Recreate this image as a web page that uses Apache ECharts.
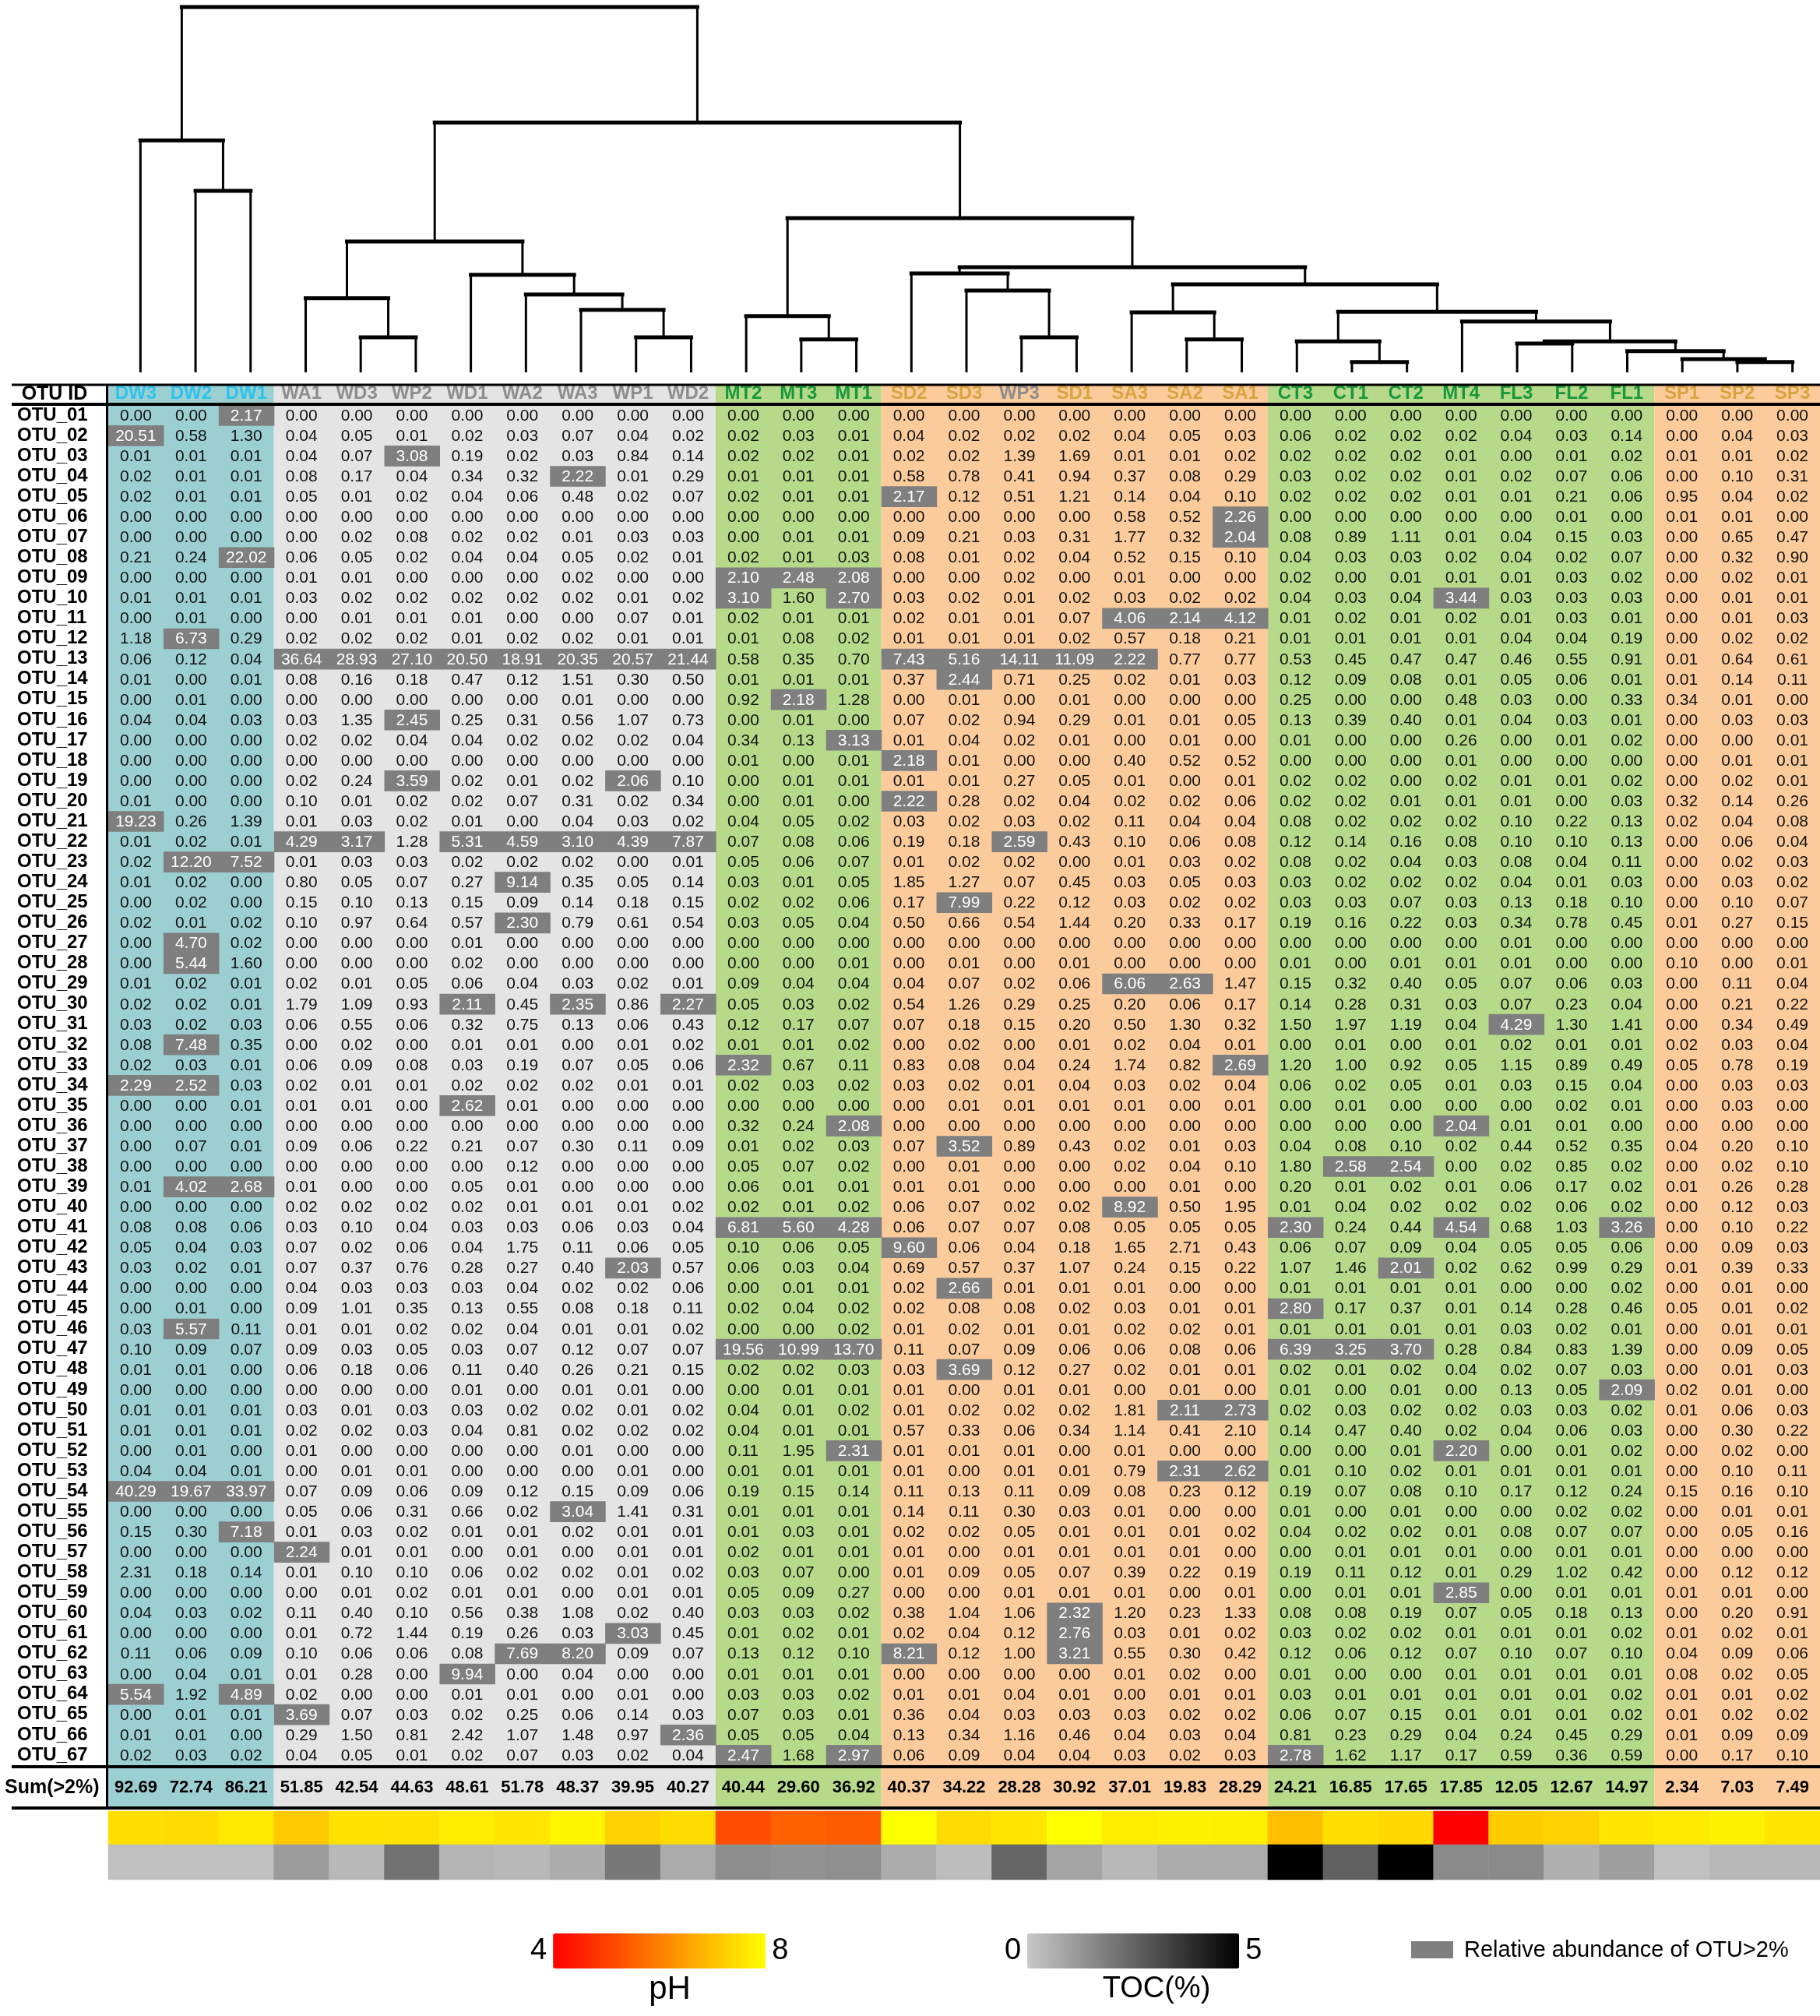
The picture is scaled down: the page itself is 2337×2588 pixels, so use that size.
<!DOCTYPE html>
<html>
<head>
<meta charset="utf-8">
<title>OTU relative abundance</title>
<script src="https://cdn.jsdelivr.net/npm/echarts@6/dist/echarts.min.js"></script>
<style>
html, body { margin: 0; padding: 0; background: #fff; }
#chart { width: 2337px; height: 2588px; }
</style>
</head>
<body>
<div id="chart"></div>
<script>
var FONT = '"Liberation Sans", Arial, sans-serif';

// samples, in dendrogram order
var samples = ['DW3', 'DW2', 'DW1', 'WA1', 'WD3', 'WP2', 'WD1', 'WA2', 'WA3', 'WP1', 'WD2', 'MT2', 'MT3', 'MT1',
  'SD2', 'SD3', 'WP3', 'SD1', 'SA3', 'SA2', 'SA1', 'CT3', 'CT1', 'CT2', 'MT4', 'FL3', 'FL2', 'FL1', 'SP1', 'SP2', 'SP3'];

var otuIds = ['OTU_01', 'OTU_02', 'OTU_03', 'OTU_04', 'OTU_05', 'OTU_06', 'OTU_07', 'OTU_08', 'OTU_09', 'OTU_10',
  'OTU_11', 'OTU_12', 'OTU_13', 'OTU_14', 'OTU_15', 'OTU_16', 'OTU_17', 'OTU_18', 'OTU_19', 'OTU_20',
  'OTU_21', 'OTU_22', 'OTU_23', 'OTU_24', 'OTU_25', 'OTU_26', 'OTU_27', 'OTU_28', 'OTU_29', 'OTU_30',
  'OTU_31', 'OTU_32', 'OTU_33', 'OTU_34', 'OTU_35', 'OTU_36', 'OTU_37', 'OTU_38', 'OTU_39', 'OTU_40',
  'OTU_41', 'OTU_42', 'OTU_43', 'OTU_44', 'OTU_45', 'OTU_46', 'OTU_47', 'OTU_48', 'OTU_49', 'OTU_50',
  'OTU_51', 'OTU_52', 'OTU_53', 'OTU_54', 'OTU_55', 'OTU_56', 'OTU_57', 'OTU_58', 'OTU_59', 'OTU_60',
  'OTU_61', 'OTU_62', 'OTU_63', 'OTU_64', 'OTU_65', 'OTU_66', 'OTU_67'];

// relative abundance (%), one row per OTU, columns as in samples
var abundance = [
  [0, 0, 2.17, 0, 0, 0, 0, 0, 0, 0, 0, 0, 0, 0,   0, 0, 0, 0, 0, 0, 0, 0, 0, 0, 0, 0, 0, 0, 0, 0, 0],
  [20.51, 0.58, 1.30, 0.04, 0.05, 0.01, 0.02, 0.03, 0.07, 0.04, 0.02, 0.02, 0.03, 0.01,   0.04, 0.02, 0.02, 0.02, 0.04, 0.05, 0.03, 0.06, 0.02, 0.02, 0.02, 0.04, 0.03, 0.14, 0, 0.04, 0.03],
  [0.01, 0.01, 0.01, 0.04, 0.07, 3.08, 0.19, 0.02, 0.03, 0.84, 0.14, 0.02, 0.02, 0.01,   0.02, 0.02, 1.39, 1.69, 0.01, 0.01, 0.02, 0.02, 0.02, 0.02, 0.01, 0, 0.01, 0.02, 0.01, 0.01, 0.02],
  [0.02, 0.01, 0.01, 0.08, 0.17, 0.04, 0.34, 0.32, 2.22, 0.01, 0.29, 0.01, 0.01, 0.01,   0.58, 0.78, 0.41, 0.94, 0.37, 0.08, 0.29, 0.03, 0.02, 0.02, 0.01, 0.02, 0.07, 0.06, 0, 0.10, 0.31],
  [0.02, 0.01, 0.01, 0.05, 0.01, 0.02, 0.04, 0.06, 0.48, 0.02, 0.07, 0.02, 0.01, 0.01,   2.17, 0.12, 0.51, 1.21, 0.14, 0.04, 0.10, 0.02, 0.02, 0.02, 0.01, 0.01, 0.21, 0.06, 0.95, 0.04, 0.02],
  [0, 0, 0, 0, 0, 0, 0, 0, 0, 0, 0, 0, 0, 0,   0, 0, 0, 0, 0.58, 0.52, 2.26, 0, 0, 0, 0, 0, 0.01, 0, 0.01, 0.01, 0],
  [0, 0, 0, 0, 0.02, 0.08, 0.02, 0.02, 0.01, 0.03, 0.03, 0, 0.01, 0.01,   0.09, 0.21, 0.03, 0.31, 1.77, 0.32, 2.04, 0.08, 0.89, 1.11, 0.01, 0.04, 0.15, 0.03, 0, 0.65, 0.47],
  [0.21, 0.24, 22.02, 0.06, 0.05, 0.02, 0.04, 0.04, 0.05, 0.02, 0.01, 0.02, 0.01, 0.03,   0.08, 0.01, 0.02, 0.04, 0.52, 0.15, 0.10, 0.04, 0.03, 0.03, 0.02, 0.04, 0.02, 0.07, 0, 0.32, 0.90],
  [0, 0, 0, 0.01, 0.01, 0, 0, 0, 0.02, 0, 0, 2.10, 2.48, 2.08,   0, 0, 0.02, 0, 0.01, 0, 0, 0.02, 0, 0.01, 0.01, 0.01, 0.03, 0.02, 0, 0.02, 0.01],
  [0.01, 0.01, 0.01, 0.03, 0.02, 0.02, 0.02, 0.02, 0.02, 0.01, 0.02, 3.10, 1.60, 2.70,   0.03, 0.02, 0.01, 0.02, 0.03, 0.02, 0.02, 0.04, 0.03, 0.04, 3.44, 0.03, 0.03, 0.03, 0, 0.01, 0.01],
  [0, 0.01, 0, 0, 0.01, 0.01, 0.01, 0, 0, 0.07, 0.01, 0.02, 0.01, 0.01,   0.02, 0.01, 0.01, 0.07, 4.06, 2.14, 4.12, 0.01, 0.02, 0.01, 0.02, 0.01, 0.03, 0.01, 0, 0.01, 0.03],
  [1.18, 6.73, 0.29, 0.02, 0.02, 0.02, 0.01, 0.02, 0.02, 0.01, 0.01, 0.01, 0.08, 0.02,   0.01, 0.01, 0.01, 0.02, 0.57, 0.18, 0.21, 0.01, 0.01, 0.01, 0.01, 0.04, 0.04, 0.19, 0, 0.02, 0.02],
  [0.06, 0.12, 0.04, 36.64, 28.93, 27.10, 20.50, 18.91, 20.35, 20.57, 21.44, 0.58, 0.35, 0.70,   7.43, 5.16, 14.11, 11.09, 2.22, 0.77, 0.77, 0.53, 0.45, 0.47, 0.47, 0.46, 0.55, 0.91, 0.01, 0.64, 0.61],
  [0.01, 0, 0.01, 0.08, 0.16, 0.18, 0.47, 0.12, 1.51, 0.30, 0.50, 0.01, 0.01, 0.01,   0.37, 2.44, 0.71, 0.25, 0.02, 0.01, 0.03, 0.12, 0.09, 0.08, 0.01, 0.05, 0.06, 0.01, 0.01, 0.14, 0.11],
  [0, 0.01, 0, 0, 0, 0, 0, 0, 0.01, 0, 0, 0.92, 2.18, 1.28,   0, 0.01, 0, 0.01, 0, 0, 0, 0.25, 0, 0, 0.48, 0.03, 0, 0.33, 0.34, 0.01, 0],
  [0.04, 0.04, 0.03, 0.03, 1.35, 2.45, 0.25, 0.31, 0.56, 1.07, 0.73, 0, 0.01, 0,   0.07, 0.02, 0.94, 0.29, 0.01, 0.01, 0.05, 0.13, 0.39, 0.40, 0.01, 0.04, 0.03, 0.01, 0, 0.03, 0.03],
  [0, 0, 0, 0.02, 0.02, 0.04, 0.04, 0.02, 0.02, 0.02, 0.04, 0.34, 0.13, 3.13,   0.01, 0.04, 0.02, 0.01, 0, 0.01, 0, 0.01, 0, 0, 0.26, 0, 0.01, 0.02, 0, 0, 0.01],
  [0, 0, 0, 0, 0, 0, 0, 0, 0, 0, 0, 0.01, 0, 0.01,   2.18, 0.01, 0, 0, 0.40, 0.52, 0.52, 0, 0, 0, 0.01, 0, 0, 0, 0, 0.01, 0.01],
  [0, 0, 0, 0.02, 0.24, 3.59, 0.02, 0.01, 0.02, 2.06, 0.10, 0, 0.01, 0.01,   0.01, 0.01, 0.27, 0.05, 0.01, 0, 0.01, 0.02, 0.02, 0, 0.02, 0.01, 0.01, 0.02, 0, 0.02, 0.01],
  [0.01, 0, 0, 0.10, 0.01, 0.02, 0.02, 0.07, 0.31, 0.02, 0.34, 0, 0.01, 0,   2.22, 0.28, 0.02, 0.04, 0.02, 0.02, 0.06, 0.02, 0.02, 0.01, 0.01, 0.01, 0, 0.03, 0.32, 0.14, 0.26],
  [19.23, 0.26, 1.39, 0.01, 0.03, 0.02, 0.01, 0, 0.04, 0.03, 0.02, 0.04, 0.05, 0.02,   0.03, 0.02, 0.03, 0.02, 0.11, 0.04, 0.04, 0.08, 0.02, 0.02, 0.02, 0.10, 0.22, 0.13, 0.02, 0.04, 0.08],
  [0.01, 0.02, 0.01, 4.29, 3.17, 1.28, 5.31, 4.59, 3.10, 4.39, 7.87, 0.07, 0.08, 0.06,   0.19, 0.18, 2.59, 0.43, 0.10, 0.06, 0.08, 0.12, 0.14, 0.16, 0.08, 0.10, 0.10, 0.13, 0, 0.06, 0.04],
  [0.02, 12.20, 7.52, 0.01, 0.03, 0.03, 0.02, 0.02, 0.02, 0, 0.01, 0.05, 0.06, 0.07,   0.01, 0.02, 0.02, 0, 0.01, 0.03, 0.02, 0.08, 0.02, 0.04, 0.03, 0.08, 0.04, 0.11, 0, 0.02, 0.03],
  [0.01, 0.02, 0, 0.80, 0.05, 0.07, 0.27, 9.14, 0.35, 0.05, 0.14, 0.03, 0.01, 0.05,   1.85, 1.27, 0.07, 0.45, 0.03, 0.05, 0.03, 0.03, 0.02, 0.02, 0.02, 0.04, 0.01, 0.03, 0, 0.03, 0.02],
  [0, 0.02, 0, 0.15, 0.10, 0.13, 0.15, 0.09, 0.14, 0.18, 0.15, 0.02, 0.02, 0.06,   0.17, 7.99, 0.22, 0.12, 0.03, 0.02, 0.02, 0.03, 0.03, 0.07, 0.03, 0.13, 0.18, 0.10, 0, 0.10, 0.07],
  [0.02, 0.01, 0.02, 0.10, 0.97, 0.64, 0.57, 2.30, 0.79, 0.61, 0.54, 0.03, 0.05, 0.04,   0.50, 0.66, 0.54, 1.44, 0.20, 0.33, 0.17, 0.19, 0.16, 0.22, 0.03, 0.34, 0.78, 0.45, 0.01, 0.27, 0.15],
  [0, 4.70, 0.02, 0, 0, 0, 0.01, 0, 0, 0, 0, 0, 0, 0,   0, 0, 0, 0, 0, 0, 0, 0, 0, 0, 0, 0.01, 0, 0, 0, 0, 0],
  [0, 5.44, 1.60, 0, 0, 0, 0.02, 0, 0, 0, 0, 0, 0, 0.01,   0, 0.01, 0, 0.01, 0, 0, 0, 0.01, 0, 0.01, 0.01, 0.01, 0, 0, 0.10, 0, 0.01],
  [0.01, 0.02, 0.01, 0.02, 0.01, 0.05, 0.06, 0.04, 0.03, 0.02, 0.01, 0.09, 0.04, 0.04,   0.04, 0.07, 0.02, 0.06, 6.06, 2.63, 1.47, 0.15, 0.32, 0.40, 0.05, 0.07, 0.06, 0.03, 0, 0.11, 0.04],
  [0.02, 0.02, 0.01, 1.79, 1.09, 0.93, 2.11, 0.45, 2.35, 0.86, 2.27, 0.05, 0.03, 0.02,   0.54, 1.26, 0.29, 0.25, 0.20, 0.06, 0.17, 0.14, 0.28, 0.31, 0.03, 0.07, 0.23, 0.04, 0, 0.21, 0.22],
  [0.03, 0.02, 0.03, 0.06, 0.55, 0.06, 0.32, 0.75, 0.13, 0.06, 0.43, 0.12, 0.17, 0.07,   0.07, 0.18, 0.15, 0.20, 0.50, 1.30, 0.32, 1.50, 1.97, 1.19, 0.04, 4.29, 1.30, 1.41, 0, 0.34, 0.49],
  [0.08, 7.48, 0.35, 0, 0.02, 0, 0.01, 0.01, 0, 0.01, 0.02, 0.01, 0.01, 0.02,   0, 0.02, 0, 0.01, 0.02, 0.04, 0.01, 0, 0.01, 0, 0.01, 0.02, 0.01, 0.01, 0.02, 0.03, 0.04],
  [0.02, 0.03, 0.01, 0.06, 0.09, 0.08, 0.03, 0.19, 0.07, 0.05, 0.06, 2.32, 0.67, 0.11,   0.83, 0.08, 0.04, 0.24, 1.74, 0.82, 2.69, 1.20, 1.00, 0.92, 0.05, 1.15, 0.89, 0.49, 0.05, 0.78, 0.19],
  [2.29, 2.52, 0.03, 0.02, 0.01, 0.01, 0.02, 0.02, 0.02, 0.01, 0.01, 0.02, 0.03, 0.02,   0.03, 0.02, 0.01, 0.04, 0.03, 0.02, 0.04, 0.06, 0.02, 0.05, 0.01, 0.03, 0.15, 0.04, 0, 0.03, 0.03],
  [0, 0, 0.01, 0.01, 0.01, 0, 2.62, 0.01, 0, 0, 0, 0, 0, 0,   0, 0.01, 0.01, 0.01, 0.01, 0, 0.01, 0, 0.01, 0, 0, 0, 0.02, 0.01, 0, 0.03, 0],
  [0, 0, 0, 0, 0, 0, 0, 0, 0, 0, 0, 0.32, 0.24, 2.08,   0, 0, 0, 0, 0, 0, 0, 0, 0, 0, 2.04, 0.01, 0.01, 0, 0, 0, 0],
  [0, 0.07, 0.01, 0.09, 0.06, 0.22, 0.21, 0.07, 0.30, 0.11, 0.09, 0.01, 0.02, 0.03,   0.07, 3.52, 0.89, 0.43, 0.02, 0.01, 0.03, 0.04, 0.08, 0.10, 0.02, 0.44, 0.52, 0.35, 0.04, 0.20, 0.10],
  [0, 0, 0, 0, 0, 0, 0, 0.12, 0, 0, 0, 0.05, 0.07, 0.02,   0, 0.01, 0, 0, 0.02, 0.04, 0.10, 1.80, 2.58, 2.54, 0, 0.02, 0.85, 0.02, 0, 0.02, 0.10],
  [0.01, 4.02, 2.68, 0.01, 0, 0, 0.05, 0.01, 0, 0, 0, 0.06, 0.01, 0.01,   0.01, 0.01, 0, 0, 0, 0.01, 0, 0.20, 0.01, 0.02, 0.01, 0.06, 0.17, 0.02, 0.01, 0.26, 0.28],
  [0, 0, 0, 0.02, 0.02, 0.02, 0.02, 0.01, 0.01, 0.01, 0.02, 0.02, 0.01, 0.02,   0.06, 0.07, 0.02, 0.02, 8.92, 0.50, 1.95, 0.01, 0.04, 0.02, 0.02, 0.02, 0.06, 0.02, 0, 0.12, 0.03],
  [0.08, 0.08, 0.06, 0.03, 0.10, 0.04, 0.03, 0.03, 0.06, 0.03, 0.04, 6.81, 5.60, 4.28,   0.06, 0.07, 0.07, 0.08, 0.05, 0.05, 0.05, 2.30, 0.24, 0.44, 4.54, 0.68, 1.03, 3.26, 0, 0.10, 0.22],
  [0.05, 0.04, 0.03, 0.07, 0.02, 0.06, 0.04, 1.75, 0.11, 0.06, 0.05, 0.10, 0.06, 0.05,   9.60, 0.06, 0.04, 0.18, 1.65, 2.71, 0.43, 0.06, 0.07, 0.09, 0.04, 0.05, 0.05, 0.06, 0, 0.09, 0.03],
  [0.03, 0.02, 0.01, 0.07, 0.37, 0.76, 0.28, 0.27, 0.40, 2.03, 0.57, 0.06, 0.03, 0.04,   0.69, 0.57, 0.37, 1.07, 0.24, 0.15, 0.22, 1.07, 1.46, 2.01, 0.02, 0.62, 0.99, 0.29, 0.01, 0.39, 0.33],
  [0, 0, 0, 0.04, 0.03, 0.03, 0.03, 0.04, 0.02, 0.02, 0.06, 0, 0.01, 0.01,   0.02, 2.66, 0.01, 0.01, 0.01, 0, 0, 0.01, 0.01, 0.01, 0.01, 0, 0, 0.02, 0, 0.01, 0],
  [0, 0.01, 0, 0.09, 1.01, 0.35, 0.13, 0.55, 0.08, 0.18, 0.11, 0.02, 0.04, 0.02,   0.02, 0.08, 0.08, 0.02, 0.03, 0.01, 0.01, 2.80, 0.17, 0.37, 0.01, 0.14, 0.28, 0.46, 0.05, 0.01, 0.02],
  [0.03, 5.57, 0.11, 0.01, 0.01, 0.02, 0.02, 0.04, 0.01, 0.01, 0.02, 0, 0, 0.02,   0.01, 0.02, 0.01, 0.01, 0.02, 0.02, 0.01, 0.01, 0.01, 0.01, 0.01, 0.03, 0.02, 0.01, 0, 0.01, 0.01],
  [0.10, 0.09, 0.07, 0.09, 0.03, 0.05, 0.03, 0.07, 0.12, 0.07, 0.07, 19.56, 10.99, 13.70,   0.11, 0.07, 0.09, 0.06, 0.06, 0.08, 0.06, 6.39, 3.25, 3.70, 0.28, 0.84, 0.83, 1.39, 0, 0.09, 0.05],
  [0.01, 0.01, 0, 0.06, 0.18, 0.06, 0.11, 0.40, 0.26, 0.21, 0.15, 0.02, 0.02, 0.03,   0.03, 3.69, 0.12, 0.27, 0.02, 0.01, 0.01, 0.02, 0.01, 0.02, 0.04, 0.02, 0.07, 0.03, 0, 0.01, 0.03],
  [0, 0, 0, 0, 0, 0, 0.01, 0, 0.01, 0.01, 0, 0, 0.01, 0.01,   0.01, 0, 0.01, 0.01, 0, 0.01, 0, 0.01, 0, 0.01, 0, 0.13, 0.05, 2.09, 0.02, 0.01, 0],
  [0.01, 0.01, 0.01, 0.03, 0.01, 0.03, 0.03, 0.02, 0.02, 0.01, 0.02, 0.04, 0.01, 0.02,   0.01, 0.02, 0.02, 0.02, 1.81, 2.11, 2.73, 0.02, 0.03, 0.02, 0.02, 0.03, 0.03, 0.02, 0.01, 0.06, 0.03],
  [0.01, 0.01, 0.01, 0.02, 0.02, 0.03, 0.04, 0.81, 0.02, 0.02, 0.02, 0.04, 0.01, 0.01,   0.57, 0.33, 0.06, 0.34, 1.14, 0.41, 2.10, 0.14, 0.47, 0.40, 0.02, 0.04, 0.06, 0.03, 0, 0.30, 0.22],
  [0, 0.01, 0, 0.01, 0, 0, 0, 0, 0.01, 0, 0, 0.11, 1.95, 2.31,   0.01, 0.01, 0.01, 0, 0.01, 0, 0, 0, 0, 0.01, 2.20, 0, 0.01, 0.02, 0, 0.02, 0],
  [0.04, 0.04, 0.01, 0, 0.01, 0.01, 0, 0, 0, 0.01, 0, 0.01, 0.01, 0.01,   0.01, 0, 0.01, 0.01, 0.79, 2.31, 2.62, 0.01, 0.10, 0.02, 0.01, 0.01, 0.01, 0.01, 0, 0.10, 0.11],
  [40.29, 19.67, 33.97, 0.07, 0.09, 0.06, 0.09, 0.12, 0.15, 0.09, 0.06, 0.19, 0.15, 0.14,   0.11, 0.13, 0.11, 0.09, 0.08, 0.23, 0.12, 0.19, 0.07, 0.08, 0.10, 0.17, 0.12, 0.24, 0.15, 0.16, 0.10],
  [0, 0, 0, 0.05, 0.06, 0.31, 0.66, 0.02, 3.04, 1.41, 0.31, 0.01, 0.01, 0.01,   0.14, 0.11, 0.30, 0.03, 0.01, 0, 0, 0.01, 0, 0.01, 0, 0, 0.02, 0.02, 0, 0.01, 0.01],
  [0.15, 0.30, 7.18, 0.01, 0.03, 0.02, 0.01, 0.01, 0.02, 0.01, 0.01, 0.01, 0.03, 0.01,   0.02, 0.02, 0.05, 0.01, 0.01, 0.01, 0.02, 0.04, 0.02, 0.02, 0.01, 0.08, 0.07, 0.07, 0, 0.05, 0.16],
  [0, 0, 0, 2.24, 0.01, 0.01, 0, 0.01, 0, 0.01, 0.01, 0.02, 0.01, 0.01,   0.01, 0, 0.01, 0.01, 0.01, 0.01, 0, 0, 0.01, 0.01, 0.01, 0, 0.01, 0.01, 0, 0, 0],
  [2.31, 0.18, 0.14, 0.01, 0.10, 0.10, 0.06, 0.02, 0.02, 0.01, 0.02, 0.03, 0.07, 0,   0.01, 0.09, 0.05, 0.07, 0.39, 0.22, 0.19, 0.19, 0.11, 0.12, 0.01, 0.29, 1.02, 0.42, 0, 0.12, 0.12],
  [0, 0, 0, 0, 0.01, 0.02, 0.01, 0.01, 0, 0.01, 0.01, 0.05, 0.09, 0.27,   0, 0, 0.01, 0.01, 0.01, 0, 0.01, 0, 0.01, 0.01, 2.85, 0, 0.01, 0.01, 0.01, 0.01, 0],
  [0.04, 0.03, 0.02, 0.11, 0.40, 0.10, 0.56, 0.38, 1.08, 0.02, 0.40, 0.03, 0.03, 0.02,   0.38, 1.04, 1.06, 2.32, 1.20, 0.23, 1.33, 0.08, 0.08, 0.19, 0.07, 0.05, 0.18, 0.13, 0, 0.20, 0.91],
  [0, 0, 0, 0.01, 0.72, 1.44, 0.19, 0.26, 0.03, 3.03, 0.45, 0.01, 0.02, 0.01,   0.02, 0.04, 0.12, 2.76, 0.03, 0.01, 0.02, 0.03, 0.02, 0.02, 0.01, 0.01, 0.01, 0.02, 0.01, 0.02, 0.01],
  [0.11, 0.06, 0.09, 0.10, 0.06, 0.06, 0.08, 7.69, 8.20, 0.09, 0.07, 0.13, 0.12, 0.10,   8.21, 0.12, 1.00, 3.21, 0.55, 0.30, 0.42, 0.12, 0.06, 0.12, 0.07, 0.10, 0.07, 0.10, 0.04, 0.09, 0.06],
  [0, 0.04, 0.01, 0.01, 0.28, 0, 9.94, 0, 0.04, 0, 0, 0.01, 0.01, 0.01,   0, 0, 0, 0, 0.01, 0.02, 0, 0.01, 0, 0, 0.01, 0.01, 0.01, 0.01, 0.08, 0.02, 0.05],
  [5.54, 1.92, 4.89, 0.02, 0, 0, 0.01, 0.01, 0, 0.01, 0, 0.03, 0.03, 0.02,   0.01, 0.01, 0.04, 0.01, 0, 0.01, 0.01, 0.03, 0.01, 0.01, 0.01, 0.01, 0.01, 0.02, 0.01, 0.01, 0.02],
  [0, 0.01, 0.01, 3.69, 0.07, 0.03, 0.02, 0.25, 0.06, 0.14, 0.03, 0.07, 0.03, 0.01,   0.36, 0.04, 0.03, 0.03, 0.03, 0.02, 0.02, 0.06, 0.07, 0.15, 0.01, 0.01, 0.01, 0.02, 0.01, 0.02, 0.02],
  [0.01, 0.01, 0, 0.29, 1.50, 0.81, 2.42, 1.07, 1.48, 0.97, 2.36, 0.05, 0.05, 0.04,   0.13, 0.34, 1.16, 0.46, 0.04, 0.03, 0.04, 0.81, 0.23, 0.29, 0.04, 0.24, 0.45, 0.29, 0.01, 0.09, 0.09],
  [0.02, 0.03, 0.02, 0.04, 0.05, 0.01, 0.02, 0.07, 0.03, 0.02, 0.04, 2.47, 1.68, 2.97,   0.06, 0.09, 0.04, 0.04, 0.03, 0.02, 0.03, 2.78, 1.62, 1.17, 0.17, 0.59, 0.36, 0.59, 0, 0.17, 0.10]
];

var sumOver2 = [92.69, 72.74, 86.21, 51.85, 42.54, 44.63, 48.61, 51.78, 48.37, 39.95, 40.27, 40.44, 29.60, 36.92,
  40.37, 34.22, 28.28, 30.92, 37.01, 19.83, 28.29, 24.21, 16.85, 17.65, 17.85, 12.05, 12.67, 14.97, 2.34, 7.03, 7.49];

// cells above 2 that the figure leaves unmarked
var notFlagged = [['OTU_42', 'SA2'], ['OTU_51', 'SA1'], ['OTU_58', 'DW3'], ['OTU_66', 'WD1']];

var phValues = [7.5, 7.45, 7.65, 7.15, 7.55, 7.55, 7.7, 7.6, 7.85, 7.3, 7.45, 5.2, 5.5, 5.45,
  8.0, 7.45, 7.6, 8.0, 7.7, 7.8, 7.75, 7.0, 7.5, 7.4, 4.0, 7.2, 7.3, 7.6, 7.65, 7.8, 7.6];
var tocValues = [0.2, 0.2, 0.2, 1.1, 0.4, 2.15, 0.5, 0.4, 0.7, 2.0, 0.72, 1.45, 1.35, 1.42,
  0.72, 0.28, 2.45, 0.9, 0.4, 0.72, 0.72, 5.0, 2.6, 5.0, 1.55, 1.55, 0.6, 1.05, 0.2, 0.4, 0.4];

// hierarchical clustering: [node a, node b, height]; leaves are 0..30, merges 31..
var linkage = [
  [4, 5, 0.096], [3, 31, 0.203], [9, 10, 0.096], [8, 33, 0.171], [7, 34, 0.213],
  [6, 35, 0.267], [32, 36, 0.358], [1, 2, 0.497], [0, 38, 0.635], [12, 13, 0.090],
  [11, 40, 0.154], [16, 17, 0.096], [15, 42, 0.224], [14, 43, 0.271], [19, 20, 0.090],
  [18, 45, 0.164], [22, 23, 0.028], [21, 47, 0.085], [29, 30, 0.028], [28, 49, 0.036],
  [27, 50, 0.058], [25, 26, 0.079], [52, 51, 0.085], [24, 53, 0.139], [48, 54, 0.166],
  [46, 55, 0.241], [44, 56, 0.288], [41, 57, 0.422], [37, 58, 0.684], [39, 59, 1.000]
];

abundance.forEach(function (row, i) {
  if (row.length !== samples.length) throw new Error('row ' + otuIds[i] + ' has ' + row.length);
});

// background blocks behind the columns
var blocks = [[0, 2, '#9CCFD2'], [3, 10, '#E4E4E4'], [11, 13, '#B6DA8A'], [14, 20, '#FCCB9C'], [21, 27, '#B6DA8A'], [28, 30, '#FCCB9C']];

function labelColor(name) {
  var p = name.slice(0, 2);
  if (p === 'DW') return '#2CC3EC';
  if (p === 'WA' || p === 'WD' || p === 'WP') return '#8D8D8D';
  if (p === 'MT' || p === 'CT' || p === 'FL') return '#17983B';
  return '#D9A43F';
}

// dendrogram links from the linkage table
var nodeX = [], nodeH = [];
samples.forEach(function (s, i) { nodeX.push(i); nodeH.push(0); });
var links = linkage.map(function (m) {
  var a = m[0], b = m[1];
  nodeX.push((nodeX[a] + nodeX[b]) / 2);
  nodeH.push(m[2]);
  return [nodeX[a], nodeH[a], nodeX[b], nodeH[b], m[2]];
});

function flagged(otu, s, v) {
  if (v <= 2) return false;
  for (var k = 0; k < notFlagged.length; k++) {
    if (notFlagged[k][0] === otu && notFlagged[k][1] === s) return false;
  }
  return true;
}

var cells = [];
abundance.forEach(function (row, r) {
  row.forEach(function (v, c) {
    cells.push([c, r, v, flagged(otuIds[r], samples[c], v) ? 1 : 0]);
  });
});

function renderLink(params, api) {
  var l0 = api.coord([api.value(0), api.value(1)]);
  var l1 = api.coord([api.value(0), api.value(4)]);
  var r0 = api.coord([api.value(2), api.value(3)]);
  var r1 = api.coord([api.value(2), api.value(4)]);
  return {
    type: 'group',
    children: [
      { type: 'line', shape: { x1: l0[0], y1: l0[1], x2: l1[0], y2: l1[1] }, style: { stroke: '#000', lineWidth: 3 } },
      { type: 'line', shape: { x1: r0[0], y1: r0[1], x2: r1[0], y2: r1[1] }, style: { stroke: '#000', lineWidth: 3 } },
      { type: 'line', shape: { x1: l1[0], y1: l1[1], x2: r1[0], y2: r1[1] }, style: { stroke: '#000', lineWidth: 5, lineCap: 'square' } }
    ]
  };
}

function renderBlock(params, api) {
  var cs = params.coordSys;
  var w = api.size([1, 0])[0];
  var x0 = api.coord([api.value(0), 0])[0] - w / 2;
  var x1 = api.coord([api.value(1), 0])[0] + w / 2;
  return {
    type: 'rect',
    shape: { x: x0, y: cs.y - 26, width: x1 - x0, height: cs.height + 26 + 54 },
    style: { fill: blocks[params.dataIndex][2] }
  };
}

function renderCell(params, api) {
  var p = api.coord([api.value(0), api.value(1)]);
  var s = api.size([1, 1]);
  var on = api.value(3) === 1;
  var kids = [];
  if (on) {
    kids.push({ type: 'rect', shape: { x: p[0] - s[0] / 2, y: p[1] - s[1] / 2, width: s[0] + 0.6, height: s[1] + 0.6 }, style: { fill: '#7F7F7F' } });
  }
  kids.push({
    type: 'text', x: p[0], y: p[1] + 1,
    style: { text: api.value(2).toFixed(2), fill: on ? '#fff' : '#111', font: '21px ' + FONT, align: 'center', verticalAlign: 'middle' }
  });
  return { type: 'group', children: kids };
}

function renderSum(params, api) {
  var p = api.coord([api.value(0), 0]);
  return {
    type: 'text', x: p[0], y: p[1],
    style: { text: api.value(2).toFixed(2), fill: '#000', font: 'bold 22px ' + FONT, align: 'center', verticalAlign: 'middle' }
  };
}

var TABLE_LEFT = 139, TABLE_W = 2204;

var chart = echarts.init(document.getElementById('chart'));
chart.setOption({
  backgroundColor: '#fff',
  animation: false,
  textStyle: { fontFamily: FONT },
  grid: [
    { left: 145, top: 9, width: 2208, height: 469 },
    { left: TABLE_LEFT, top: 520, width: TABLE_W, height: 1746 },
    { left: TABLE_LEFT, top: 2270, width: TABLE_W, height: 50 },
    { left: TABLE_LEFT, top: 2325, width: TABLE_W, height: 43 },
    { left: TABLE_LEFT, top: 2368, width: TABLE_W, height: 45 }
  ],
  xAxis: [
    { gridIndex: 0, type: 'value', min: -0.5, max: samples.length - 0.5, show: false },
    {
      gridIndex: 1, type: 'category', position: 'top', z: 10,
      data: samples.map(function (s) { return { value: s, textStyle: { color: labelColor(s) } }; }),
      axisLine: { show: false }, axisTick: { show: false }, splitLine: { show: false },
      axisLabel: { interval: 0, margin: 3, fontSize: 24, fontWeight: 'bold', fontFamily: FONT }
    },
    { gridIndex: 2, type: 'category', data: samples, show: false },
    { gridIndex: 3, type: 'category', data: samples, show: false },
    { gridIndex: 4, type: 'category', data: samples, show: false }
  ],
  yAxis: [
    { gridIndex: 0, type: 'value', min: 0, max: 1, show: false },
    {
      gridIndex: 1, type: 'category', inverse: true, data: otuIds, z: 10,
      axisLine: { show: false }, axisTick: { show: false }, splitLine: { show: false },
      axisLabel: { interval: 0, align: 'left', margin: 117, fontSize: 24, fontWeight: 'bold', color: '#000', fontFamily: FONT }
    },
    {
      gridIndex: 2, type: 'category', data: ['Sum(>2%)'], z: 10,
      axisLine: { show: false }, axisTick: { show: false },
      axisLabel: { align: 'left', margin: 133, fontSize: 25, fontWeight: 'bold', color: '#000', fontFamily: FONT }
    },
    { gridIndex: 3, type: 'category', data: ['pH'], show: false },
    { gridIndex: 4, type: 'category', data: ['TOC'], show: false }
  ],
  visualMap: [
    {
      type: 'continuous', seriesIndex: 4, min: 4, max: 8, calculable: false,
      orient: 'horizontal', left: 681, top: 2482, padding: 0,
      itemWidth: 45, itemHeight: 273, text: ['8', '4'], textGap: 8,
      inRange: { color: ['#FF0000', '#FFFF00'] },
      textStyle: { fontSize: 38, color: '#000', fontFamily: FONT }
    },
    {
      type: 'continuous', seriesIndex: 5, min: 0, max: 5, calculable: false,
      orient: 'horizontal', left: 1290, top: 2482, padding: 0,
      itemWidth: 45, itemHeight: 272, text: ['5', '0'], textGap: 8,
      inRange: { color: ['#C8C8C8', '#000000'] },
      textStyle: { fontSize: 38, color: '#000', fontFamily: FONT }
    }
  ],
  series: [
    { type: 'custom', name: 'dendrogram', xAxisIndex: 0, yAxisIndex: 0, renderItem: renderLink, data: links, silent: true },
    { type: 'custom', name: 'blocks', xAxisIndex: 1, yAxisIndex: 1, z: 1, renderItem: renderBlock,
      data: blocks.map(function (b) { return [b[0], b[1]]; }), silent: true },
    { type: 'custom', name: 'abundance', xAxisIndex: 1, yAxisIndex: 1, z: 3, renderItem: renderCell, data: cells, silent: true },
    { type: 'custom', name: 'sum', xAxisIndex: 2, yAxisIndex: 2, z: 3, renderItem: renderSum,
      data: sumOver2.map(function (v, i) { return [i, 0, v]; }), silent: true },
    { type: 'heatmap', name: 'pH', xAxisIndex: 3, yAxisIndex: 3, itemStyle: { borderWidth: 0 },
      data: phValues.map(function (v, i) { return [i, 0, v]; }) },
    { type: 'heatmap', name: 'TOC', xAxisIndex: 4, yAxisIndex: 4, itemStyle: { borderWidth: 0 },
      data: tocValues.map(function (v, i) { return [i, 0, v]; }) }
  ],
  graphic: [
    { type: 'line', z: 100, shape: { x1: 15, y1: 494, x2: 2337, y2: 494 }, style: { stroke: '#000', lineWidth: 3 } },
    { type: 'line', z: 100, shape: { x1: 15, y1: 519, x2: 2337, y2: 519 }, style: { stroke: '#000', lineWidth: 4 } },
    { type: 'line', z: 100, shape: { x1: 15, y1: 2268, x2: 2337, y2: 2268 }, style: { stroke: '#000', lineWidth: 4 } },
    { type: 'line', z: 100, shape: { x1: 15, y1: 2321, x2: 2337, y2: 2321 }, style: { stroke: '#000', lineWidth: 4 } },
    { type: 'line', z: 100, shape: { x1: 137.5, y1: 494, x2: 137.5, y2: 2321 }, style: { stroke: '#000', lineWidth: 3 } },
    { type: 'text', z: 100, x: 70, y: 506, style: { text: 'OTU ID', font: 'bold 25px ' + FONT, fill: '#000', align: 'center', verticalAlign: 'middle' } },
    { type: 'text', z: 100, x: 860, y: 2554, style: { text: 'pH', font: '42px ' + FONT, fill: '#000', align: 'center', verticalAlign: 'middle' } },
    { type: 'text', z: 100, x: 1485, y: 2554, style: { text: 'TOC(%)', font: '38px ' + FONT, fill: '#000', align: 'center', verticalAlign: 'middle' } },
    { type: 'rect', z: 100, shape: { x: 1812, y: 2492, width: 54, height: 22 }, style: { fill: '#7F7F7F' } },
    { type: 'text', z: 100, x: 1880, y: 2504, style: { text: 'Relative abundance of OTU>2%', font: '29px ' + FONT, fill: '#000', align: 'left', verticalAlign: 'middle' } }
  ]
});
</script>
</body>
</html>
